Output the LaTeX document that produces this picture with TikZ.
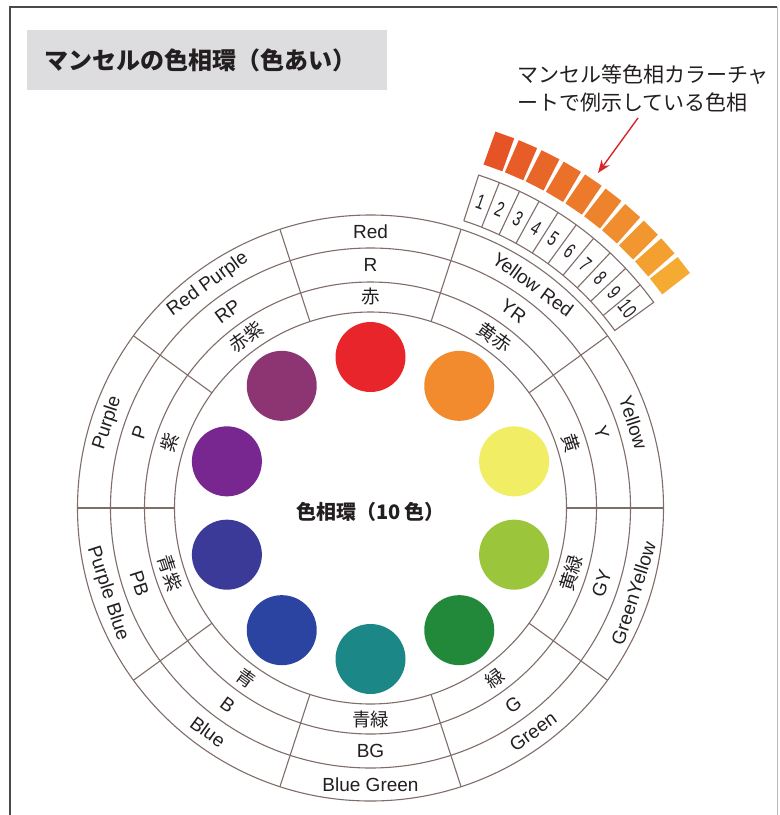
\documentclass[tikz,border=0pt]{standalone}
\usepackage{fontspec}
\setmainfont{Liberation Sans}
\newfontfamily\jp{Noto Sans CJK JP}
\usetikzlibrary{arrows.meta}
\definecolor{ringline}{HTML}{7F6D68}
\definecolor{framegray}{HTML}{4A4A4A}
\definecolor{titlebg}{HTML}{DDDDDF}
\definecolor{ink}{HTML}{231F20}
\definecolor{chipA}{HTML}{E65326}
\definecolor{chipB}{HTML}{F5AA32}
\definecolor{arrowred}{HTML}{D8282A}
\definecolor{cR}{HTML}{E8252A}
\definecolor{cYR}{HTML}{F28A2E}
\definecolor{cY}{HTML}{F1EE66}
\definecolor{cGY}{HTML}{9BC63B}
\definecolor{cG}{HTML}{23893A}
\definecolor{cBG}{HTML}{1C8787}
\definecolor{cB}{HTML}{2B44A2}
\definecolor{cPB}{HTML}{3B3A99}
\definecolor{cP}{HTML}{77278F}
\definecolor{cRP}{HTML}{8D3573}
\tikzset{
  ring/.style={draw=ringline, line width=1.1pt},
  enlab/.style={font=\fontsize{19}{19}\selectfont, text=ink, inner sep=0pt},
  jplab/.style={font=\jp\fontsize{18.5}{18.5}\selectfont, text=ink, inner sep=0pt},
  numlab/.style={font=\fontsize{21}{21}\selectfont, text=ink, inner sep=0pt},
  disc/.style={circle, minimum size=70pt, inner sep=0pt},
  chip/.style={minimum width=20pt, minimum height=35pt, inner sep=0pt},
}
\begin{document}
\begin{tikzpicture}[x=1pt,y=1pt]
\useasboundingbox (0,-815) rectangle (780,0);
\fill[white] (0,-815) rectangle (780,0);
% frame
\draw[framegray, line width=2pt] (10,-815) -- (10,-7) -- (777,-7);
\draw[gray!55, line width=1pt] (777,-7) -- (777,-815);
% title
\node[fill=titlebg, minimum width=360pt, minimum height=60pt, anchor=north west, inner sep=0pt] (titlebox) at (27,-30) {};
\node[font=\jp\bfseries\fontsize{24}{24}\selectfont, text=ink, anchor=west, inner sep=0pt] (title) at (44,-60) {マンセルの色相環（色あい）};
% note
\node[font=\jp\fontsize{21}{21}\selectfont, text=ink, anchor=west, inner sep=0pt] (note1) at (517,-75) {マンセル等色相カラーチャ};
\node[font=\jp\fontsize{21}{21}\selectfont, text=ink, anchor=west, inner sep=0pt] (note2) at (517,-103) {ートで例示している色相};
\begin{scope}[shift={(370.5,-508)}]
  \coordinate (O) at (0,0);
  \foreach \r in {196,226,260,293} \draw[ring] (O) circle (\r);
  \foreach \a in {0,36,...,324} \draw[ring] (\a:196) -- (\a:293);
  \foreach \a/\en/\ab/\ja [count=\i] in {90/Red/R/赤, 54/Yellow Red/YR/黄赤, 18/Yellow/Y/黄, -18/GreenYellow/GY/黄緑, -54/Green/G/緑, -90/Blue Green/BG/青緑, -126/Blue/B/青, -162/Purple Blue/PB/青紫, 162/Purple/P/紫, 126/Red Purple/RP/赤紫}{
    \pgfmathsetmacro\rot{\a>0 ? \a-90 : \a+90}
    \node[enlab, rotate=\rot] (en\i) at (\a:276.5) {\en};
    \node[enlab, rotate=\rot] (ab\i) at (\a:243) {\ab};
    \node[jplab, rotate=\rot] (ja\i) at (\a:211) {\ja};
  }
  \foreach \a/\c [count=\i] in {90/cR, 54/cYR, 18/cY, -18/cGY, -54/cG, -90/cBG, -126/cB, -162/cPB, 162/cP, 126/cRP}{
    \node[disc, fill=\c] (disc\i) at (\a:151) {};
  }
  \node[font=\jp\bfseries\fontsize{20}{20}\selectfont, text=ink, inner sep=0pt] (wheeltitle) at (0,-4) {色相環（10 色）};
  % chart band
  \draw[ring] (72:302) -- (72:350) arc[start angle=72, end angle=36, radius=350] -- (36:302) arc[start angle=36, end angle=72, radius=302];
  \foreach \i in {1,...,10}{
    \pgfmathsetmacro\aa{72-3.6*\i}
    \pgfmathsetmacro\am{72-3.6*(\i-0.5)}
    \pgfmathsetmacro\t{(\i-1)*100/9}
    \ifnum\i<10 \draw[ring] (\aa:302) -- (\aa:350); \fi
    \node[numlab, rotate=\am-90] (num\i) at (\am:325) {\scalebox{0.68}[1]{\i}};
    \node[chip, fill=chipB!\t!chipA, rotate=\am-90] (chip\i) at (\am:379) {};
  }
\end{scope}
\coordinate (arrS) at (638,-118);
\coordinate (arrE) at (598,-173);
\draw[arrowred, line width=1.4pt, -{Stealth[length=13pt, width=10pt]}] (arrS) -- (arrE);
\end{tikzpicture}
\end{document}
